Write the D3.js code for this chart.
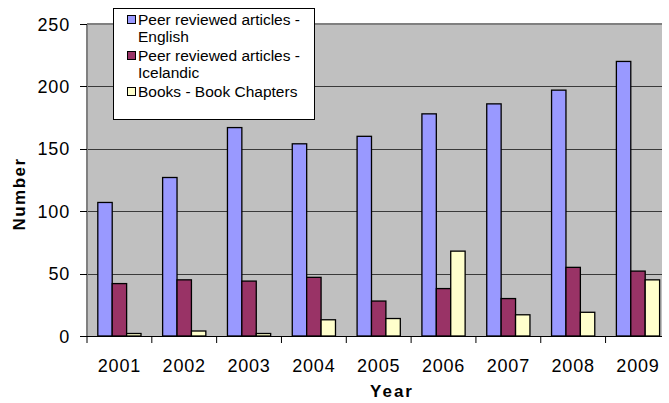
<!DOCTYPE html>
<html><head><meta charset="utf-8">
<script src="https://cdn.jsdelivr.net/npm/d3@7"></script>
<style>body{margin:0;background:#fff}svg{display:block}text{font-family:"Liberation Sans",Arial,sans-serif}</style>
</head><body><svg id="c" width="669" height="403"></svg>
<script>
const years = ["2001","2002","2003","2004","2005","2006","2007","2008","2009"];
const seriesNames = ["Peer reviewed articles - English","Peer reviewed articles - Icelandic","Books - Book Chapters"];
const english = [107,127,167,154,160,178,186,197,220];
const icelandic = [42,45,44,47,28,38,30,55,52];
const books = [2,4,2,13,14,68,17,19,45];
const yTicks = [0,50,100,150,200,250];
const colors = ["#9999FF","#993366","#FFFFCC"];
const series = [english, icelandic, books];

const svg = d3.select("#c");
const L = 87, R = 662, T = 24, B = 336, Rscale = 670.4;
const x0 = d3.scaleBand().domain(years).range([L, Rscale]).padding(0);
const x1 = d3.scaleBand().domain(d3.range(3)).range([x0.bandwidth()/6, x0.bandwidth()*5/6]).padding(0);
const y = d3.scaleLinear().domain([0,250]).range([B, T]);

svg.append("rect").attr("x",L).attr("y",T).attr("width",R-L).attr("height",B-T).attr("fill","#C0C0C0");
// gridlines
svg.append("g").selectAll("line").data(yTicks.filter(d=>d>0&&d<250)).join("line")
  .attr("x1",L).attr("x2",R).attr("y1",d=>Math.round(y(d))+0.5).attr("y2",d=>Math.round(y(d))+0.5)
  .attr("stroke","#3a3a3a").attr("stroke-width",1);
// top & left border
svg.append("line").attr("x1",L).attr("x2",R).attr("y1",T).attr("y2",T).attr("stroke","#808080").attr("stroke-width",2);
svg.append("line").attr("x1",L).attr("x2",L).attr("y1",T).attr("y2",B).attr("stroke","#808080").attr("stroke-width",2);

// bars
const g = svg.append("g");
years.forEach((yr,i)=>{
  series.forEach((s,j)=>{
    g.append("rect").attr("x",x0(yr)+x1(j)).attr("y",y(s[i]))
     .attr("width",x1.bandwidth()).attr("height",B-y(s[i]))
     .attr("fill",colors[j]).attr("stroke","#000").attr("stroke-width",1.3);
  });
});

// x axis
const xAxis = svg.append("g");
xAxis.append("line").attr("x1",L).attr("x2",R).attr("y1",B+0.5).attr("y2",B+0.5).attr("stroke","#000");
xAxis.selectAll(".tk").data(years).join("line").attr("class","tk")
  .attr("x1",d=>x0(d)).attr("x2",d=>x0(d)).attr("y1",B).attr("y2",B+7).attr("stroke","#000");
xAxis.selectAll("text").data(years).join("text")
  .attr("x",d=>x0(d)+x0.bandwidth()/2).attr("y",372).attr("text-anchor","middle")
  .attr("font-size",18).attr("letter-spacing",0.8).attr("fill","#000").text(d=>d);

// y axis
const yAxis = svg.append("g");
yAxis.selectAll("line").data(yTicks).join("line")
  .attr("x1",L-7).attr("x2",L).attr("y1",d=>Math.round(y(d))+0.5).attr("y2",d=>Math.round(y(d))+0.5).attr("stroke","#000");
yAxis.selectAll("text").data(yTicks).join("text")
  .attr("x",70).attr("y",d=>y(d)+6.5).attr("text-anchor","end")
  .attr("font-size",18).attr("letter-spacing",0.8).attr("fill","#000").text(d=>d);

// axis titles
svg.append("text").attr("transform","translate(25,194) rotate(-90)").attr("text-anchor","middle")
  .attr("font-size",17).attr("font-weight","bold").attr("letter-spacing",1.5).text("Number");
svg.append("text").attr("x",392).attr("y",397).attr("text-anchor","middle")
  .attr("font-size",17).attr("font-weight","bold").attr("letter-spacing",2).text("Year");

// legend
const lg = svg.append("g");
lg.append("rect").attr("x",113.5).attr("y",8.5).attr("width",201).attr("height",111).attr("fill","#fff").attr("stroke","#000");
const legendLines = [
  {idx:0, lines:["Peer reviewed articles -","English"], base:25},
  {idx:1, lines:["Peer reviewed articles -","Icelandic"], base:61},
  {idx:2, lines:["Books - Book Chapters"], base:97}
];
legendLines.forEach(it=>{
  lg.append("rect").attr("x",127.5).attr("y",it.base-9.5).attr("width",8).attr("height",8)
    .attr("fill",colors[it.idx]).attr("stroke","#000");
  it.lines.forEach((t,k)=>{
    lg.append("text").attr("x",138).attr("y",it.base+k*16.5).attr("font-size",15.5).attr("fill","#000").text(t);
  });
});
</script></body></html>
